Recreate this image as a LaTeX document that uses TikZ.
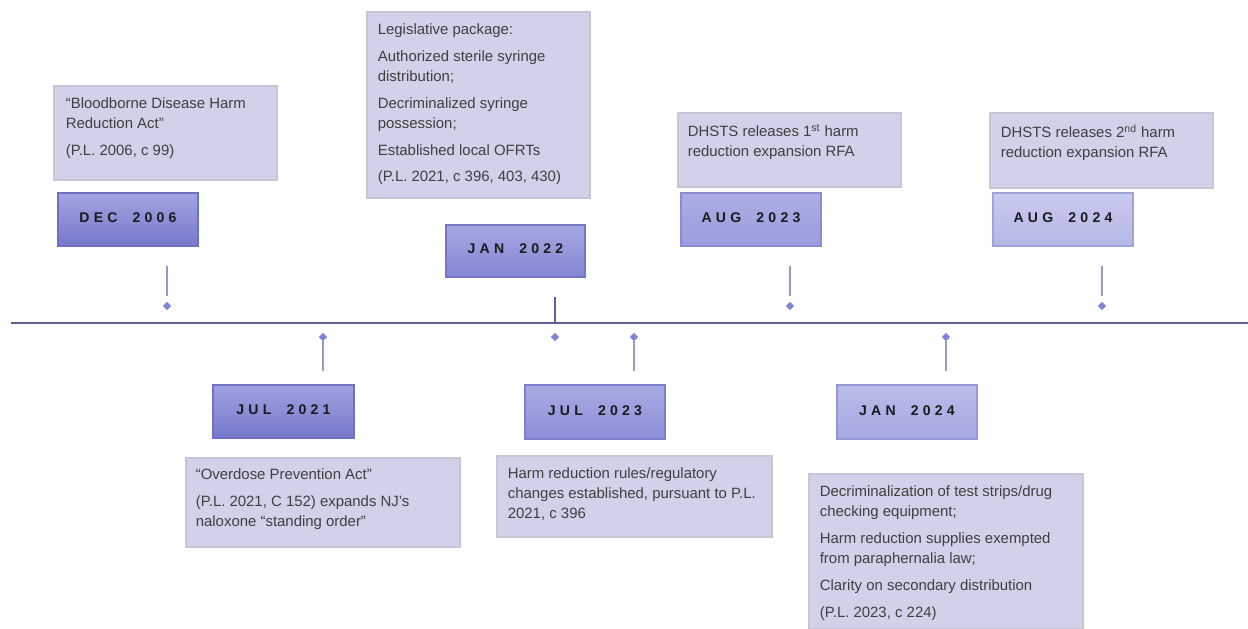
\documentclass[tikz,border=0pt]{standalone}
\usepackage{fontspec}
\setmainfont{Liberation Sans}
\usetikzlibrary{shapes.geometric,fit,calc}
\definecolor{boxfill}{HTML}{D1D1E9}
\definecolor{boxline}{HTML}{C6C6D4}
\definecolor{txtcol}{HTML}{3F3F3F}
\definecolor{datetxt}{HTML}{1A1A1A}
\definecolor{axiscol}{HTML}{5C5E9E}
\definecolor{conncol}{HTML}{9A9AC0}
\definecolor{markcol}{HTML}{7F83D6}
\definecolor{dAt}{HTML}{A2A4E0}\definecolor{dAb}{HTML}{7678CC}\definecolor{dAl}{HTML}{6E70C4}
\definecolor{dBt}{HTML}{A6A8E2}\definecolor{dBb}{HTML}{8486D4}\definecolor{dBl}{HTML}{7476C8}
\definecolor{dCt}{HTML}{ACAEE4}\definecolor{dCb}{HTML}{9A9CDD}\definecolor{dCl}{HTML}{8A8CD2}
\definecolor{dDt}{HTML}{C9CBEF}\definecolor{dDb}{HTML}{B4B6E6}\definecolor{dDl}{HTML}{A0A2DA}
\definecolor{dEt}{HTML}{A0A2E0}\definecolor{dEb}{HTML}{7678CC}\definecolor{dEl}{HTML}{6E70C4}
\definecolor{dFt}{HTML}{A9ABE3}\definecolor{dFb}{HTML}{8C8ED8}\definecolor{dFl}{HTML}{7C7ECE}
\definecolor{dGt}{HTML}{BABCE9}\definecolor{dGb}{HTML}{A6A8E1}\definecolor{dGl}{HTML}{9496D6}
\newcommand{\datelbl}[2]{#1\hspace{4pt} #2}
\tikzset{
  infobox/.style={draw=boxline, fill=boxfill, inner sep=0pt, line width=0.6pt},
  infotext/.style={anchor=north west, inner sep=0pt, align=left, text=txtcol,
    font=\fontsize{8.5}{11.3}\selectfont},
  datebox/.style={inner sep=0pt, top color=#1t, bottom color=#1b, draw=#1l, line width=0.6pt},
  datetext/.style={anchor=base, inner sep=0pt, text=datetxt,
    font=\fontsize{8}{9}\selectfont\bfseries\addfontfeature{LetterSpace=30}},
  marker/.style={diamond, fill=markcol, inner sep=0pt, minimum size=4.8pt},
  conn/.style={draw=conncol, line width=0.7pt},
  axisline/.style={draw=axiscol, line width=0.8pt},
}
\begin{document}
\begin{tikzpicture}[x=0.02cm,y=-0.02cm]
\useasboundingbox (0,0) rectangle (1248,629);
% axis
\coordinate (axL) at (11,323);
\coordinate (axR) at (1248,323);
\draw[axisline] (axL) -- (axR);

% info boxes
\node[infobox, fit={(54,86)(277,180)}] (t1) {};
\node[infotext] (x1) at ($(t1.north west)+(12,12)$) {“Bloodborne Disease Harm\\ Reduction Act”\\[4pt] (P.L. 2006, c 99)};
\node[infobox, fit={(367,12)(590,198)}] (t2) {};
\node[infotext] (x2) at ($(t2.north west)+(11,12)$) {Legislative package:\\[4pt] Authorized sterile syringe\\ distribution;\\[4pt] Decriminalized syringe\\ possession;\\[4pt] Established local OFRTs\\[4pt] (P.L. 2021, c 396, 403, 430)};
\node[infobox, fit={(678,113)(901,187)}] (t3) {};
\node[infotext] (x3) at ($(t3.north west)+(10,12)$) {DHSTS releases 1\textsuperscript{st} harm\\ reduction expansion RFA};
\node[infobox, fit={(990,113)(1213,188)}] (t4) {};
\node[infotext] (x4) at ($(t4.north west)+(11,12)$) {DHSTS releases 2\textsuperscript{nd} harm\\ reduction expansion RFA};
\node[infobox, fit={(186,458)(460,547)}] (t5) {};
\node[infotext] (x5) at ($(t5.north west)+(10,11)$) {“Overdose Prevention Act”\\[4pt] (P.L. 2021, C 152) expands NJ’s\\ naloxone “standing order”};
\node[infobox, fit={(497,456)(772,537)}] (t6) {};
\node[infotext] (x6) at ($(t6.north west)+(11,12)$) {Harm reduction rules/regulatory\\ changes established, pursuant to P.L.\\ 2021, c 396};
\node[infobox, fit={(809,474)(1083,629)}] (t7) {};
\node[infotext] (x7) at ($(t7.north west)+(11,12)$) {Decriminalization of test strips/drug\\ checking equipment;\\[4pt] Harm reduction supplies exempted\\ from paraphernalia law;\\[4pt] Clarity on secondary distribution\\[4pt] (P.L. 2023, c 224)};

% date boxes
\node[datebox=dA, fit={(58,193)(198,246)}] (d1) {};
\node[datetext] (l1) at ($(d1.center)+(0,2.5)$) {\datelbl{DEC}{2006}};
\node[datebox=dB, fit={(446,225)(585,277)}] (d2) {};
\node[datetext] (l2) at ($(d2.center)+(0,2.5)$) {\datelbl{JAN}{2022}};
\node[datebox=dC, fit={(681,193)(821,246)}] (d3) {};
\node[datetext] (l3) at ($(d3.center)+(0,2.5)$) {\datelbl{AUG}{2023}};
\node[datebox=dD, fit={(993,193)(1133,246)}] (d4) {};
\node[datetext] (l4) at ($(d4.center)+(0,2.5)$) {\datelbl{AUG}{2024}};
\node[datebox=dE, fit={(213,385)(354,438)}] (d5) {};
\node[datetext] (l5) at ($(d5.center)+(0,3)$) {\datelbl{JUL}{2021}};
\node[datebox=dF, fit={(525,385)(665,439)}] (d6) {};
\node[datetext] (l6) at ($(d6.center)+(0,3)$) {\datelbl{JUL}{2023}};
\node[datebox=dG, fit={(837,385)(977,439)}] (d7) {};
\node[datetext] (l7) at ($(d7.center)+(0,3)$) {\datelbl{JAN}{2024}};

% markers and connectors
\node[marker] (m1) at (167,306) {};
\coordinate (c1a) at (167,266); \coordinate (c1b) at (167,296);
\draw[conn] (c1a) -- (c1b);

\node[marker] (m2) at (555,337) {};
\coordinate (c2a) at (555,297); \coordinate (c2b) at (555,323);
\draw[axisline] (c2a) -- (c2b);

\node[marker] (m3) at (790,306) {};
\coordinate (c3a) at (790,266); \coordinate (c3b) at (790,296);
\draw[conn] (c3a) -- (c3b);

\node[marker] (m4) at (1102,306) {};
\coordinate (c4a) at (1102,266); \coordinate (c4b) at (1102,296);
\draw[conn] (c4a) -- (c4b);

\node[marker] (m5) at (323,337) {};
\coordinate (c5a) at (323,341); \coordinate (c5b) at (323,371);
\draw[conn] (c5a) -- (c5b);

\node[marker] (m6) at (634,337) {};
\coordinate (c6a) at (634,341); \coordinate (c6b) at (634,371);
\draw[conn] (c6a) -- (c6b);

\node[marker] (m7) at (946,337) {};
\coordinate (c7a) at (946,341); \coordinate (c7b) at (946,371);
\draw[conn] (c7a) -- (c7b);
\end{tikzpicture}
\end{document}
